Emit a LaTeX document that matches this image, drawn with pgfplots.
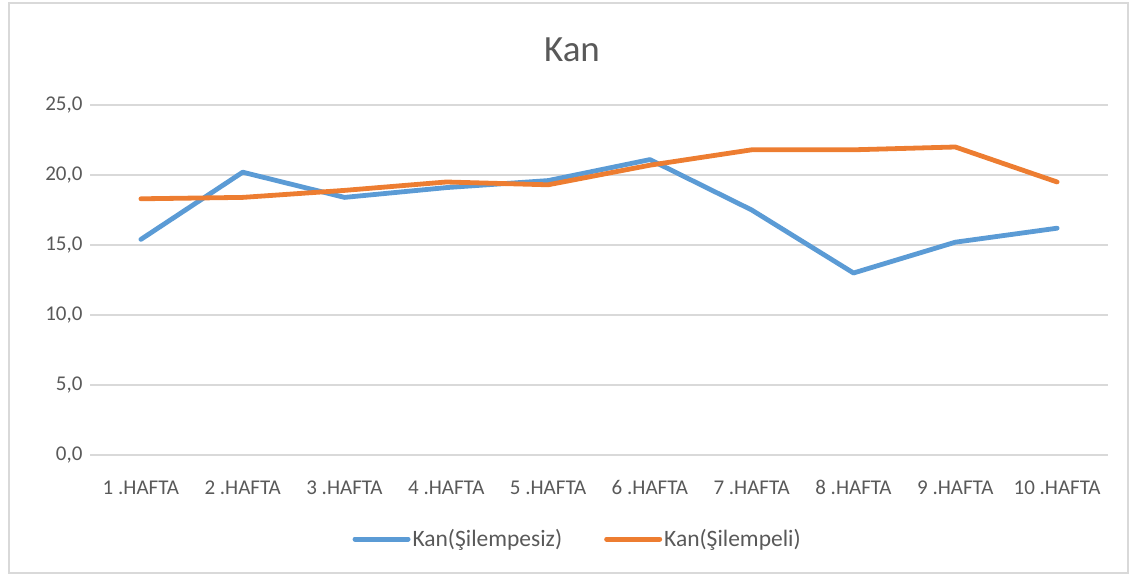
\documentclass[border=0pt]{standalone}
\usepackage{pgfplots}
\pgfplotsset{compat=1.18}
\usepackage{fontspec}
\setmainfont{Carlito}
\definecolor{cblue}{HTML}{5B9BD5}
\definecolor{corange}{HTML}{ED7D31}
\definecolor{ctext}{HTML}{595959}
\definecolor{cgrid}{HTML}{D9D9D9}
\begin{document}
\begin{tikzpicture}[x=1pt,y=1pt]
\useasboundingbox (0,0) rectangle (1134,575);
\draw[cgrid, line width=1.2pt] (9,2) rectangle (1128,572);
\node[text=ctext, font=\fontsize{37}{44}\selectfont] at (572,525) {Kan};
\begin{axis}[
  at={(90pt,120pt)}, anchor=south west,
  scale only axis, width=1018pt, height=350pt,
  xmin=0.5, xmax=10.5, ymin=0, ymax=25,
  xtick={1,...,10},
  xticklabels={1 .HAFTA,2 .HAFTA,3 .HAFTA,4 .HAFTA,5 .HAFTA,6 .HAFTA,7 .HAFTA,8 .HAFTA,9 .HAFTA,10 .HAFTA},
  ytick={0,5,10,15,20,25},
  /pgf/number format/assume math mode=true,
  /pgf/number format/fixed, /pgf/number format/fixed zerofill,
  /pgf/number format/precision=1, /pgf/number format/use comma,
  ymajorgrids, grid style={cgrid, line width=1.3pt},
  axis x line*=bottom, axis y line*=left,
  x axis line style={cgrid, line width=1.3pt, -},
  y axis line style={draw=none},
  major tick length=0pt,
  tick label style={text=ctext, font=\fontsize{21}{25}\selectfont},
  xticklabel style={anchor=base, yshift=-40pt},
  yticklabel style={xshift=-4pt},
  legend columns=2,
  legend style={at={(0.479,-0.24)}, anchor=center, draw=none, fill=none,
    font=\fontsize{23.5}{28}\selectfont, text=ctext,
    /tikz/every even column/.append style={column sep=40pt}},
  legend image code/.code={\draw[#1, line width=5pt, line cap=round] (0pt,0pt) -- (53pt,0pt);},
]
\addplot[cblue, line width=4.8pt, line join=round, line cap=round] coordinates {
 (1,15.4) (2,20.2) (3,18.4) (4,19.1) (5,19.6) (6,21.1) (7,17.5) (8,13.0) (9,15.2) (10,16.2)};
\addlegendentry{Kan(Şilempesiz)}
\addplot[corange, line width=4.8pt, line join=round, line cap=round] coordinates {
 (1,18.3) (2,18.4) (3,18.9) (4,19.5) (5,19.3) (6,20.7) (7,21.8) (8,21.8) (9,22.0) (10,19.5)};
\addlegendentry{Kan(Şilempeli)}
\end{axis}
\end{tikzpicture}
\end{document}
